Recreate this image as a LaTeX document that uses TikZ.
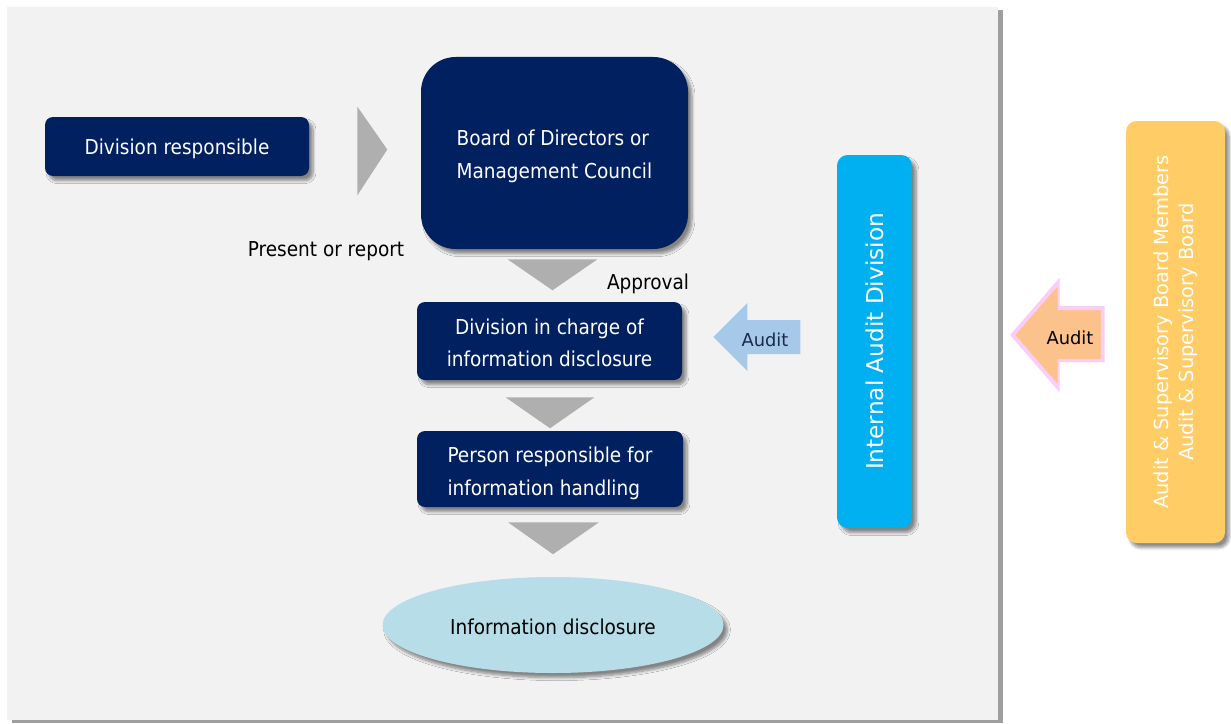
\documentclass[tikz,border=0pt]{standalone}
\usepackage{fontspec}
\setmainfont{DejaVu Sans Condensed}
\newfontfamily\widefont{DejaVu Sans}
\usetikzlibrary{shadows,shadows.blur,calc,shapes.geometric}
\definecolor{navy}{HTML}{002060}
\definecolor{panelgray}{HTML}{F2F2F2}
\definecolor{trigray}{HTML}{AFAFAF}
\definecolor{auditcyan}{HTML}{00B0F0}
\definecolor{boardorange}{HTML}{FFCC66}
\definecolor{discblue}{HTML}{B7DEE8}
\definecolor{arrowblue}{HTML}{A6C9EA}
\definecolor{arrowpeach}{HTML}{FBC28C}
\definecolor{glowpink}{HTML}{F9CDF5}
\definecolor{darktext}{HTML}{1A2A4A}
\tikzset{
  boxshadow/.style={blur shadow={shadow xshift=3pt, shadow yshift=-3.5pt, shadow blur steps=6, shadow opacity=45}},
  basefont/.style={font=\fontsize{15.4}{24.5}\selectfont},
  navybox/.style={fill=navy, rounded corners=6pt, inner sep=0pt, boxshadow},
  boxtext/.style={basefont, text=white, inner sep=0pt},
  tri/.style={fill=trigray},
  vtext/.style={rotate=90, text=white, inner sep=0pt},
  plainlabel/.style={basefont, text=black, inner sep=0pt},
}
\begin{document}
\begin{tikzpicture}[x=0.75pt,y=-0.75pt]
\useasboundingbox (0,0) rectangle (1231,724);
% panel
\path[fill=panelgray, drop shadow={shadow xshift=4pt, shadow yshift=-2.5pt, fill=black!38, opacity=1}] (7,7) rectangle (998,720);

% boxes
\node[navybox, minimum width=264*0.75pt, minimum height=59*0.75pt] (divresp) at (177,146.5) {};
\node[boxtext] (divresptext) at ($(divresp.center)+(0,2.5)$) {Division responsible};

\node[navybox, rounded corners=26pt, minimum width=267*0.75pt, minimum height=192*0.75pt] (board) at (554.5,153) {};
\node[boxtext, align=left] (boardtext) at ($(board.center)+(0,3.5)$) {Board of Directors or\\Management Council};

\node[navybox, minimum width=265*0.75pt, minimum height=78*0.75pt] (charge) at (549.5,341) {};
\node[boxtext, align=center] (chargetext) at ($(charge.center)+(0,2)$) {Division in charge of\\information disclosure};

\node[navybox, minimum width=266*0.75pt, minimum height=76*0.75pt] (person) at (550,469) {};
\node[boxtext, align=left] (persontext) at ($(person.center)+(0,4)$) {Person responsible for\\information handling};

\node[ellipse, fill=discblue, boxshadow, minimum width=341*0.75pt, minimum height=96*0.75pt, inner sep=0pt] (disc) at (553,625) {};
\node[plainlabel] (disctext) at ($(disc.center)+(0,2)$) {Information disclosure};

\node[fill=auditcyan, rounded corners=8pt, minimum width=75*0.75pt, minimum height=373*0.75pt, boxshadow] (internal) at (874.5,341.5) {};
\node[vtext, font=\widefont\fontsize{17.4}{20}\selectfont] (internaltext) at (internal.center) {Internal Audit Division};

\node[fill=boardorange, rounded corners=8pt, minimum width=99*0.75pt, minimum height=422*0.75pt, boxshadow] (asb) at (1175.5,332) {};
\node[vtext, align=center, font=\widefont\fontsize{14.6}{18.5}\selectfont] (asbtext) at (asb.center) {Audit \& Supervisory Board Members\\Audit \& Supervisory Board};

% labels
\node[plainlabel] (present) at (326,251) {Present or report};
\node[plainlabel] (approval) at (648,284) {Approval};

% gray triangle connectors
\fill[tri] ($(divresp.east)+(48,-40)$) -- ($(divresp.east)+(48,49)$) -- ($(divresp.east)+(78,3)$) -- cycle;
\fill[tri] ($(board.south)+(-47,10)$) -- ($(board.south)+(43,10)$) -- ($(board.south)+(-2,41)$) -- cycle;
\fill[tri] ($(charge.south)+(-44,17)$) -- ($(charge.south)+(45,17)$) -- ($(charge.south)+(0.5,48)$) -- cycle;
\fill[tri] ($(person.south)+(-42,15)$) -- ($(person.south)+(49,15)$) -- ($(person.south)+(3,47)$) -- cycle;

% audit arrows
\coordinate (btip) at ($(charge.east)+(31,-4)$);
\fill[arrowblue] (btip) -- ++(34,-34) -- ++(0,17) -- ++(53,0) -- ++(0,34) -- ++(-53,0) -- ++(0,17) -- cycle;
\node[font=\widefont\fontsize{13.4}{16}\selectfont, text=darktext, inner sep=0pt] (audit1) at (765,340) {Audit};

\coordinate (otip) at ($(asb.west)+(-113,3)$);
\draw[glowpink, line width=3pt, line join=miter, fill=arrowpeach] (otip) -- ++(45,-52) -- ++(0,25) -- ++(45,0) -- ++(0,52) -- ++(-45,0) -- ++(0,27) -- cycle;
\fill[arrowpeach] (otip) ++(3,0) -- ++(42,-48) -- ++(0,24) -- ++(43,0) -- ++(0,48) -- ++(-43,0) -- ++(0,24) -- cycle;
\node[font=\widefont\fontsize{13.4}{16}\selectfont, text=black, inner sep=0pt] (audit2) at (1070,338) {Audit};
\end{tikzpicture}
\end{document}
